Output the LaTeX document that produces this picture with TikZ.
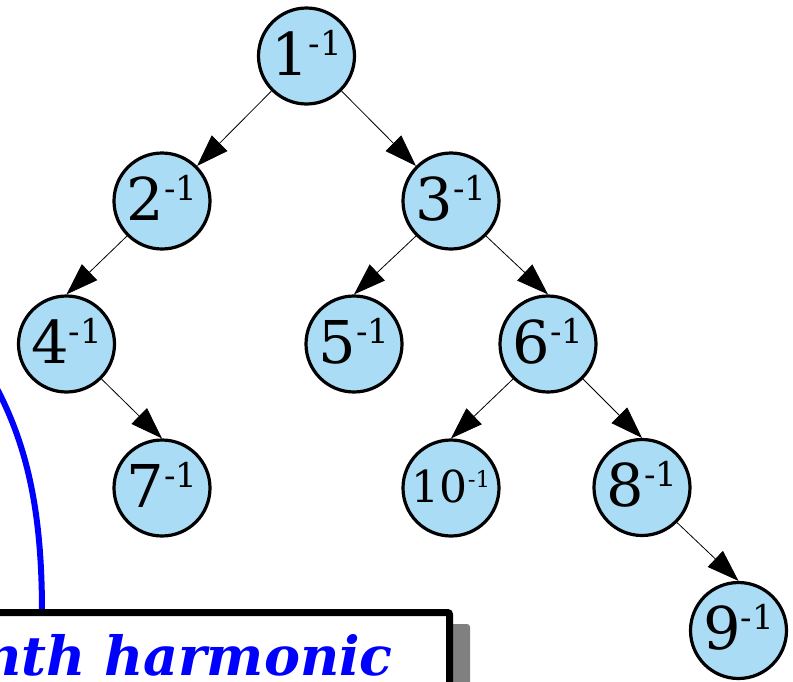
\documentclass[tikz,border=0pt]{standalone}
\usepackage{fontspec}
\setmainfont{DejaVu Serif}
\usetikzlibrary{arrows.meta}
\definecolor{nodefill}{RGB}{170,220,245}
\definecolor{boxblue}{RGB}{0,0,255}
\definecolor{shadowgray}{RGB}{128,128,128}
\newcommand{\invbig}[1]{{\fontsize{59}{59}\selectfont #1}\raisebox{20pt}{\fontsize{34}{34}\selectfont -1}}
\newcommand{\invsmall}[1]{{\fontsize{44}{44}\selectfont #1}\raisebox{15pt}{\fontsize{23}{23}\selectfont -1}}
\begin{document}
\begin{tikzpicture}[x=1pt,y=-1pt,
  hnode/.style={circle, draw=black, line width=3.2pt, fill=nodefill, minimum size=96pt,
    inner sep=0pt, text height=38pt, text depth=0pt},
  hnodesmall/.style={hnode, text height=28pt},
  treeedge/.style={line width=0.8pt, -{Triangle[length=32pt,width=22pt]}},
  shadowbox/.style={fill=shadowgray, rounded corners=3pt, inner sep=0pt, outer sep=0pt,
    minimum width=600pt, minimum height=140pt, anchor=north east},
  framebox/.style={draw=black, fill=white, line width=7pt, rounded corners=2pt, inner sep=0pt,
    outer sep=0pt, minimum width=600pt, minimum height=140pt, anchor=north east},
  curvestyle/.style={draw=boxblue, line width=6pt}
]
\useasboundingbox (0,0) rectangle (793,681);
\clip (0,0) rectangle (793,681);

% tree nodes
\node[hnode] (n1) at (306.5,56) {\invbig{1}};
\node[hnode] (n2) at (162,201) {\invbig{2}};
\node[hnode] (n3) at (451,201) {\invbig{3}};
\node[hnode] (n4) at (66.5,344) {\invbig{4}};
\node[hnode] (n5) at (354,344) {\invbig{5}};
\node[hnode] (n6) at (548,344) {\invbig{6}};
\node[hnode] (n7) at (162,488) {\invbig{7}};
\node[hnodesmall] (n10) at (451,488) {\invsmall{10}};
\node[hnode] (n8) at (642,487.5) {\invbig{8}};
\node[hnode] (n9) at (738.5,630.5) {\invbig{9}};

% edges
\draw[treeedge] (n1.south west) -- (n2.45);
\draw[treeedge] (n1.south east) -- (n3.135);
\draw[treeedge] (n2.south west) -- (n4.north);
\draw[treeedge] (n3.south west) -- (n5.north);
\draw[treeedge] (n3.south east) -- (n6.north);
\draw[treeedge] (n4.south east) -- (n7.north);
\draw[treeedge] (n6.south west) -- (n10.north);
\draw[treeedge] (n6.south east) -- (n8.north);
\draw[treeedge] (n8.south east) -- (n9.north);

% blue curve
\coordinate (cstart) at (42,612.5);
\coordinate (cend) at (-5,385);
\draw[curvestyle] (cstart) .. controls (42,520) and (30,450) .. (cend);

% box with shadow
\node[shadowbox] (boxshadow) at (470,624) {};
\node[framebox] (box) at (449.5,612.5) {};
\node[font=\bfseries\itshape\fontsize{54}{54}\selectfont, text=boxblue, anchor=base east,
  inner sep=0pt] (boxtext) at (393,675) {nth harmonic};
\end{tikzpicture}
\end{document}
